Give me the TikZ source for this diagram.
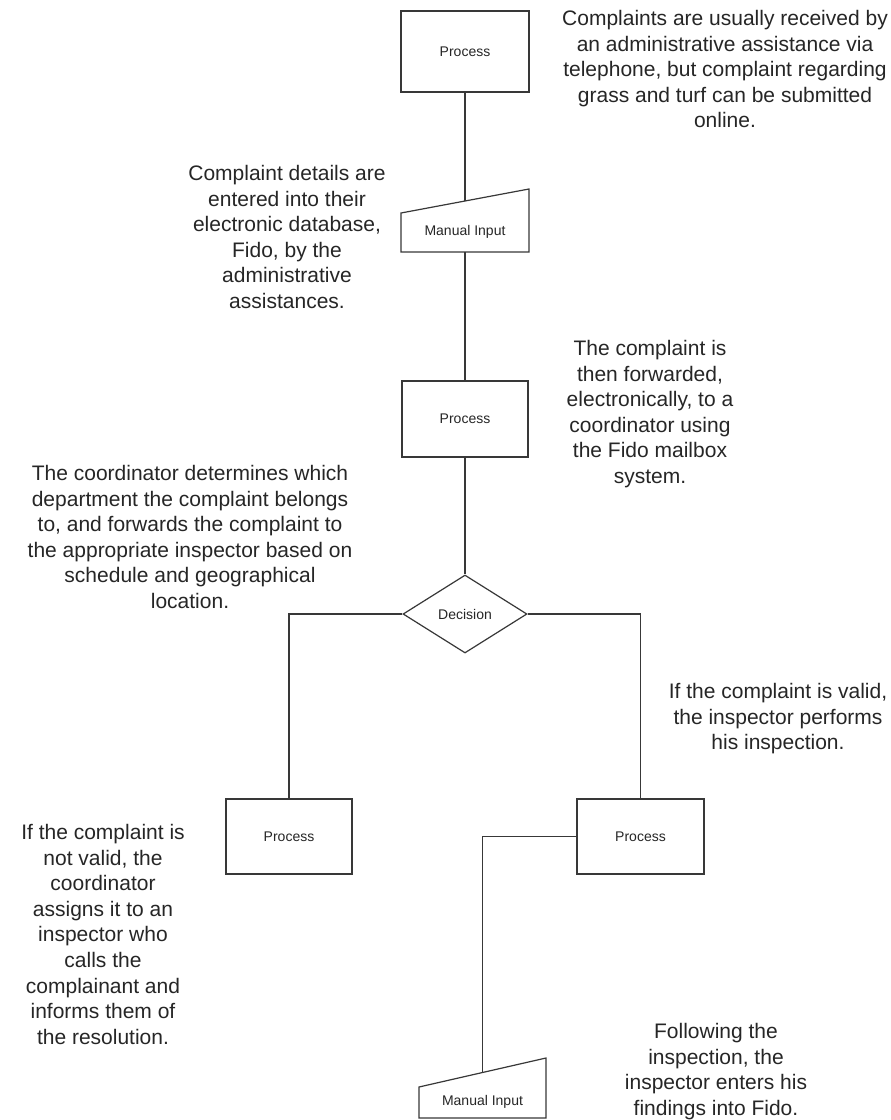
\documentclass[tikz,border=0pt]{standalone}
\usepackage{fontspec}
\setmainfont{Liberation Sans}
\usetikzlibrary{shapes.geometric}
\definecolor{ink}{HTML}{262626}
\definecolor{edge}{HTML}{383838}
\begin{document}
\begin{tikzpicture}[x=1pt,y=-1pt,
  flow/.style={draw=edge, line width=1.2pt},
  procbox/.style={draw=edge, line width=1.2pt, rectangle, inner sep=0pt, text=ink,
    font=\fontsize{14}{16}\selectfont},
  decbox/.style={draw=edge, line width=1.2pt, diamond, aspect=1.6, minimum width=124pt,
    minimum height=78pt, inner sep=0pt, text=ink, font=\fontsize{14}{16}\selectfont},
  inshape/.style={draw=edge, line width=1.2pt, line join=miter},
  inputlabel/.style={text=ink, inner sep=0pt, font=\fontsize{14}{16}\selectfont},
  note/.style={text=ink, align=center, anchor=north, inner sep=0pt,
    font=\fontsize{21}{25.6}\selectfont},
]
\path[use as bounding box, fill=white] (0,0) rectangle (891,1120);

% first process
\node[procbox, minimum width=128pt, minimum height=81pt] (p1) at (465,51.5) {Process};

% first manual input (sloped top edge)
\coordinate (mi1a) at (401,213);
\coordinate (mi1b) at (529,189);
\coordinate (mi1c) at (529,252);
\coordinate (mi1d) at (401,252);
\draw[inshape] (mi1a) -- (mi1b) -- (mi1c) -- (mi1d) -- cycle;
\node[inputlabel] (mi1) at (465,232) {Manual Input};
\coordinate (mi1top) at (465,201);
\coordinate (mi1bot) at (465,252);

% second process and decision
\node[procbox, minimum width=126pt, minimum height=76pt] (p2) at (465,419) {Process};
\node[decbox] (dec) at (465,614) {Decision};

% the two branches
\node[procbox, minimum width=126pt, minimum height=75pt] (p3) at (289,836.5) {Process};
\node[procbox, minimum width=127pt, minimum height=75pt] (p4) at (640.5,836.5) {Process};

% second manual input
\coordinate (mi2a) at (419,1087);
\coordinate (mi2b) at (546,1058);
\coordinate (mi2c) at (546,1118);
\coordinate (mi2d) at (419,1118);
\draw[inshape] (mi2a) -- (mi2b) -- (mi2c) -- (mi2d) -- cycle;
\node[inputlabel] (mi2) at (482.5,1102) {Manual Input};
\coordinate (mi2top) at (482.5,1072.5);

% connectors
\draw[flow] (p1.south) -- (mi1top);
\draw[flow] (mi1bot) -- (p2.north);
\draw[flow] (p2.south) -- (dec.north);
\draw[flow] (dec.west) -| (p3.north);
\draw[flow] (dec.east) -| (p4.north);
\draw[flow] (p4.west) -| (mi2top);

% annotations
\node[note] (t1) at (725,10) {Complaints are usually received by\\an administrative assistance via\\telephone, but complaint regarding\\grass and turf can be submitted\\online.};
\node[note] (t2) at (287,165) {Complaint details are\\entered into their\\electronic database,\\Fido, by the\\administrative\\assistances.};
\node[note] (t3) at (650,340) {The complaint is\\then forwarded,\\electronically, to a\\coordinator using\\the Fido mailbox\\system.};
\node[note] (t4) at (190,465) {The coordinator determines which\\department the complaint belongs\\to, and forwards the complaint to\\the appropriate inspector based on\\schedule and geographical\\location.};
\node[note] (t5) at (778,683) {If the complaint is valid,\\the inspector performs\\his inspection.};
\node[note] (t6) at (103,824) {If the complaint is\\not valid, the\\coordinator\\assigns it to an\\inspector who\\calls the\\complainant and\\informs them of\\the resolution.};
\node[note] (t7) at (716,1023) {Following the\\inspection, the\\inspector enters his\\findings into Fido.};
\end{tikzpicture}
\end{document}
